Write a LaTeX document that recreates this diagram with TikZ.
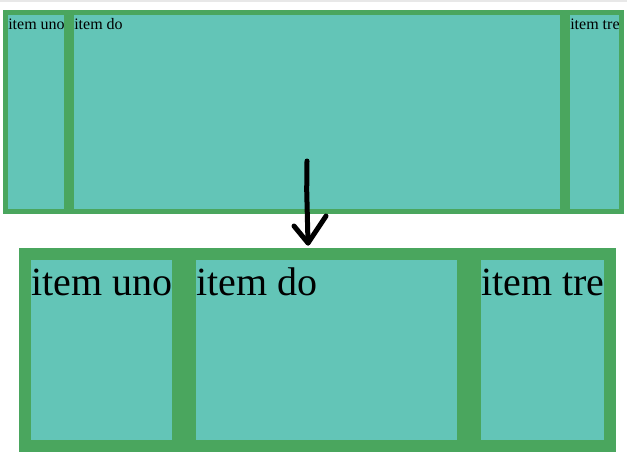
\documentclass[tikz,border=0pt]{standalone}
\usepackage{fontspec}
\setmainfont{Liberation Serif}
\usepackage{tikz}
\usetikzlibrary{positioning}

\definecolor{boxgreen}{RGB}{74,166,94}
\definecolor{boxteal}{RGB}{99,197,183}
\definecolor{edgegray}{RGB}{232,232,232}

\tikzset{
	panel/.style = {fill = boxgreen},
	item/.style = {fill = boxteal},
	smalllabel/.style = {anchor = base west, inner sep = 0pt, font = \fontsize{12}{14}\selectfont},
	biglabel/.style = {anchor = base west, inner sep = 0pt, font = \fontsize{30}{34}\selectfont},
	handarrow/.style = {line width = 3.75pt, line cap = round, line join = round}
}

\begin{document}
\begin{tikzpicture}[x = 0.75pt, y = -0.75pt]
				\useasboundingbox (0,0) rectangle (627,461);
				\fill[edgegray] (0,0) rectangle (627,1.5);
				% before
				\fill[panel] (3,10) rectangle (624,214);
				\fill[item] (8,15) rectangle (64,209);
				\fill[item] (74,15) rectangle (560,209);
				\fill[item] (570,15) rectangle (619,209);
				\node[smalllabel] (uno1) at (8,29.3) {item uno};
				\node[smalllabel] (do1) at (74,29.3) {item do};
				\node[smalllabel] (tre1) at (570,29.3) {item tre};
				% after
				\fill[panel] (19,248) rectangle (616,452);
				\fill[item] (31,260) rectangle (172,440);
				\fill[item] (196,260) rectangle (457,440);
				\fill[item] (481,260) rectangle (604,440);
				\node[biglabel] (uno2) at (31,295.6) {item uno};
				\node[biglabel] (do2) at (196,295.6) {item do};
				\node[biglabel] (tre2) at (481,295.6) {item tre};
				% arrow
				\coordinate (tail) at (307,161);
				\coordinate (bend) at (306.7,190);
				\coordinate (tip) at (308,243);
				\coordinate (leftarm) at (294,226);
				\coordinate (rightarm) at (326,216);
				\draw[handarrow] (tail) -- (bend) -- (tip);
				\draw[handarrow] (leftarm) -- (tip) -- (rightarm);
			\end{tikzpicture}
\end{document}
